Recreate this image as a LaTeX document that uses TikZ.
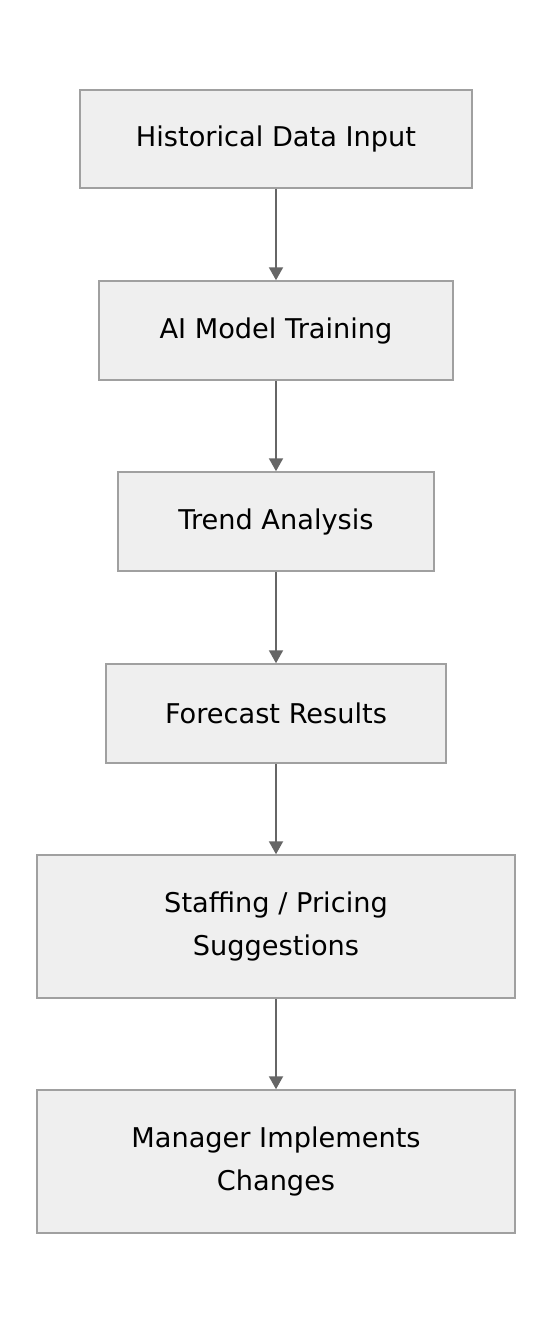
\documentclass[tikz,border=0pt]{standalone}
\usepackage{fontspec}
\setmainfont{DejaVu Sans}
\usetikzlibrary{arrows.meta}
\definecolor{boxfill}{HTML}{EFEFEF}
\definecolor{boxline}{HTML}{A0A0A0}
\definecolor{arrowc}{HTML}{666666}
\begin{document}
\begin{tikzpicture}[x=1pt,y=-1pt,
  box/.style={draw=boxline,fill=boxfill,line width=1.5pt,inner sep=0pt,
    align=center,font=\fontsize{27.2}{43}\selectfont},
  flow/.style={draw=arrowc,line width=2pt,-{Triangle[length=13pt,width=14pt]}}]
\useasboundingbox (0,0) rectangle (552,1324);
\node[box,minimum width=392pt,minimum height=98pt] (a) at (276,139) {Historical Data Input};
\node[box,minimum width=354pt,minimum height=99pt] (b) at (276,330.5) {AI Model Training};
\node[box,minimum width=316pt,minimum height=99pt] (c) at (276,521.5) {Trend Analysis};
\node[box,minimum width=340pt,minimum height=99pt] (d) at (276,713.5) {Forecast Results};
\node[box,minimum width=478pt,minimum height=143pt] (e) at (276,926.5) {Staffing / Pricing\\Suggestions};
\node[box,minimum width=478pt,minimum height=143pt] (f) at (276,1161.5) {Manager Implements\\Changes};
\draw[flow] (a) -- (b);
\draw[flow] (b) -- (c);
\draw[flow] (c) -- (d);
\draw[flow] (d) -- (e);
\draw[flow] (e) -- (f);
\end{tikzpicture}
\end{document}
